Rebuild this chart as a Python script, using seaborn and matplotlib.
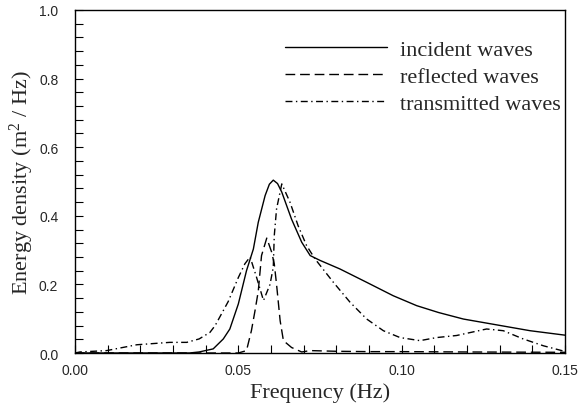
import matplotlib
matplotlib.use("Agg")
import matplotlib.pyplot as plt
import seaborn as sns
import pandas as pd
from matplotlib.ticker import MultipleLocator

# ---- data ----
inc_x = [0.000, 0.035, 0.038, 0.0423, 0.0454, 0.0474, 0.0500, 0.0525, 0.0546, 0.0561,
         0.0582, 0.0595, 0.0607, 0.0620, 0.0633, 0.0663, 0.0694, 0.0720, 0.0750, 0.0811,
         0.0893, 0.0974, 0.1046, 0.1113, 0.1189, 0.1291, 0.1393, 0.1500]
inc_y = [0.000, 0.000, 0.003, 0.012, 0.041, 0.070, 0.143, 0.240, 0.303, 0.381,
         0.459, 0.492, 0.504, 0.494, 0.469, 0.390, 0.323, 0.284, 0.270, 0.245,
         0.206, 0.167, 0.138, 0.118, 0.099, 0.082, 0.065, 0.052]

ref_x = [0.000, 0.050, 0.0525, 0.0540, 0.0551, 0.0561, 0.0571, 0.0587, 0.0602, 0.0610,
         0.0617, 0.0628, 0.0638, 0.0663, 0.0694, 0.0720, 0.0800, 0.0900, 0.1000, 0.1200,
         0.1500]
ref_y = [0.000, 0.000, 0.007, 0.065, 0.123, 0.180, 0.284, 0.335, 0.294, 0.260,
         0.200, 0.094, 0.036, 0.016, 0.003, 0.007, 0.005, 0.004, 0.004, 0.003,
         0.002]

tra_x = [0.000, 0.0015, 0.0097, 0.0189, 0.0290, 0.0342, 0.0380, 0.0413, 0.0429, 0.0469,
         0.0500, 0.0520, 0.0536, 0.0546, 0.0556, 0.0577, 0.0597, 0.0607, 0.0610, 0.0617,
         0.0633, 0.0658, 0.0683, 0.0709, 0.0735, 0.0791, 0.0842, 0.0893, 0.0944, 0.0995,
         0.1056, 0.1107, 0.1168, 0.1260, 0.1311, 0.1372, 0.1434, 0.1490, 0.1500]
tra_y = [0.000, 0.003, 0.007, 0.024, 0.031, 0.031, 0.041, 0.060, 0.080, 0.150,
         0.220, 0.260, 0.280, 0.250, 0.220, 0.153, 0.200, 0.250, 0.342, 0.420,
         0.493, 0.440, 0.371, 0.313, 0.274, 0.206, 0.148, 0.099, 0.065, 0.045,
         0.036, 0.045, 0.051, 0.070, 0.065, 0.041, 0.021, 0.007, 0.005]

labels = ["incident waves", "reflected waves", "transmitted waves"]
x_ticks = [0.00, 0.05, 0.10, 0.15]
y_ticks = [0.0, 0.2, 0.4, 0.6, 0.8, 1.0]

sns.set_style("white")
plt.rcParams["font.family"] = ["Liberation Sans", "DejaVu Sans"]
plt.rcParams["mathtext.fontset"] = "custom"
plt.rcParams["mathtext.rm"] = "Liberation Serif"
plt.rcParams["mathtext.it"] = "Liberation Serif:italic"
serif = ["Liberation Serif", "DejaVu Serif"]

fig = plt.figure(figsize=(5.85, 4.06), dpi=100)
ax = fig.add_axes([75 / 585, 1 - 354 / 406, 490 / 585, 343 / 406])

lw = 1.0
sns.lineplot(x=inc_x, y=inc_y, ax=ax, color="black", lw=lw, estimator=None,
             sort=False, label=labels[0])
sns.lineplot(x=ref_x, y=ref_y, ax=ax, color="black", lw=lw, estimator=None,
             sort=False, label=labels[1], dashes=False)
sns.lineplot(x=tra_x, y=tra_y, ax=ax, color="black", lw=lw, estimator=None,
             sort=False, label=labels[2], dashes=False)
lines = ax.get_lines()
lines[1].set_dashes((7, 3.5))
lines[2].set_dashes((5, 2.5, 1, 2.5))

ax.set_xlim(0, 0.15)
ax.set_ylim(0, 1.0)
ax.set_xticks(x_ticks)
ax.set_xticklabels([f"{v:.2f}" for v in x_ticks])
ax.set_yticks(y_ticks)
ax.set_yticklabels([f"{v:.1f}" for v in y_ticks])
ax.xaxis.set_minor_locator(MultipleLocator(0.01))
ax.yaxis.set_minor_locator(MultipleLocator(0.04))
ax.tick_params(which="both", direction="in", length=6, width=0.8, color="black",
               bottom=True, left=True, top=False, right=False)
ax.tick_params(axis="x", which="major", pad=7, labelsize=10)
ax.tick_params(axis="y", which="major", pad=12, labelsize=10)
for s in ax.spines.values():
    s.set_color("black")
    s.set_linewidth(1.0)

ax.set_xlabel("Frequency (Hz)", fontsize=16, family=serif, labelpad=4)
ax.set_ylabel("Energy density (m$^2$ / Hz)", fontsize=16, family=serif, labelpad=2)

leg = ax.legend(loc="upper right", bbox_to_anchor=(0.992, 0.915), frameon=False,
                prop={"family": serif, "size": 16}, handlelength=4.6,
                handletextpad=0.6, labelspacing=0.3, borderpad=0, borderaxespad=0)

fig.savefig("out.png", dpi=100)
